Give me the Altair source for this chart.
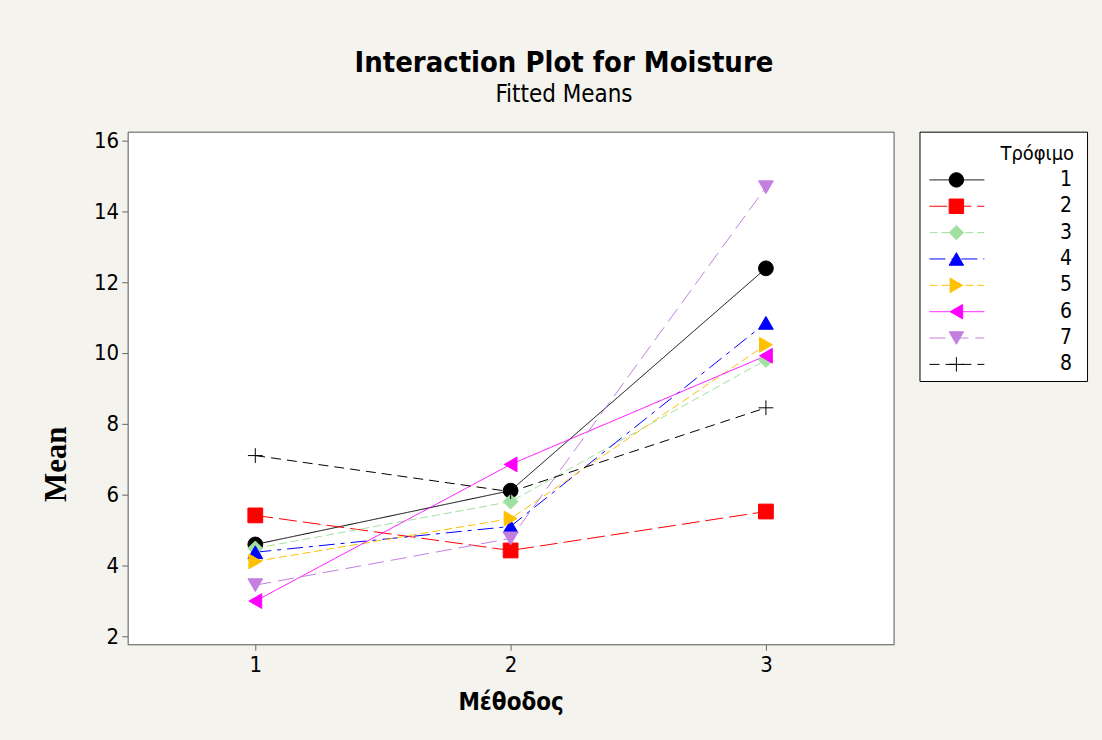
import altair as alt
import pandas as pd

# Fitted means of Moisture for each food (Τρόφιμο) under each method (Μέθοδος)
methods = [1, 2, 3]
foods = ["1", "2", "3", "4", "5", "6", "7", "8"]
mean_1 = [4.59, 6.11, 12.39]
mean_2 = [5.41, 4.42, 5.52]
mean_3 = [4.48, 5.80, 9.80]
mean_4 = [4.37, 5.10, 10.85]
mean_5 = [4.11, 5.32, 10.23]
mean_6 = [2.99, 6.85, 9.92]
mean_7 = [3.44, 4.76, 14.68]
mean_8 = [7.10, 6.08, 8.45]
series = [mean_1, mean_2, mean_3, mean_4, mean_5, mean_6, mean_7, mean_8]

y_ticks = [2, 4, 6, 8, 10, 12, 14, 16]

# Per-food styling
PLUS = "M-1,0H1M0,-1V1"
colors = ["#000000", "#FF0000", "#A0E0A0", "#0000FF",
          "#FFC000", "#FF00FF", "#C27FE0", "#000000"]
shapes = ["circle", "square", "diamond", "triangle-up",
          "triangle-right", "triangle-left", "triangle-down", PLUS]
dashes = [[1, 0], [18, 6], [8, 4], [16, 6, 4, 6],
          [8, 4], [1, 0], [16, 7], [10, 6]]

rows = []
for food, vals in zip(foods, series):
    for m, v in zip(methods, vals):
        rows.append({"food": food, "method": m, "mean": v})
df = pd.DataFrame(rows)

legend_df = pd.DataFrame({"food": foods, "row": list(range(1, len(foods) + 1))})
legend_title_df = pd.DataFrame({"label": ["Τρόφιμο"], "row": [0]})

SANS = "DejaVu Sans Condensed, Tahoma, DejaVu Sans"
BG = "#F4F3EE"

color_scale = alt.Scale(domain=foods, range=colors)
shape_scale = alt.Scale(domain=foods, range=shapes)
dash_scale = alt.Scale(domain=foods, range=dashes)

x_enc = alt.X(
    "method:Q",
    scale=alt.Scale(domain=[0.5, 3.5], nice=False, zero=False),
    axis=alt.Axis(values=methods, format="d", title="Μέθοδος", grid=False,
                  domain=False, tickSize=6, tickColor="#666666",
                  labelFont=SANS, labelFontSize=22, labelColor="#000000",
                  labelPadding=4, titleFont=SANS, titleFontSize=24,
                  titleFontWeight="bold", titleColor="#000000", titlePadding=15),
)
y_enc = alt.Y(
    "mean:Q",
    scale=alt.Scale(domain=[1.77, 16.25], nice=False, zero=False),
    axis=alt.Axis(values=y_ticks, title="Mean", grid=False, domain=False,
                  tickSize=6, tickColor="#666666", labelFont=SANS,
                  labelFontSize=22, labelColor="#000000", labelPadding=3,
                  titleFont="Liberation Serif", titleFontSize=31,
                  titleFontWeight="bold", titleColor="#000000",
                  titleAngle=270, titleX=-71, titleY=333,
                  titleAlign="center", titleBaseline="middle"),
)

base = alt.Chart(df).encode(x=x_enc, y=y_enc)

lines = base.mark_line(strokeWidth=1).encode(
    color=alt.Color("food:N", scale=color_scale, legend=None),
    strokeDash=alt.StrokeDash("food:N", scale=dash_scale, legend=None),
)
points = base.mark_point(filled=True, opacity=1, strokeWidth=1, size=220).encode(
    color=alt.Color("food:N", scale=color_scale, legend=None),
    stroke=alt.Stroke("food:N", scale=color_scale, legend=None),
    shape=alt.Shape("food:N", scale=shape_scale, legend=None),
)

plot = alt.layer(lines, points).properties(
    width=768, height=514,
    view=alt.ViewBackground(fill="white", stroke="#555555", strokeWidth=1),
)

# Key: a short styled line with its marker, and the food number on the right
ly = alt.Y("row:Q", scale=alt.Scale(domain=[-0.83, 8.63], reverse=True, nice=False, zero=False), axis=None)
lkey = alt.Chart(legend_df)
key_lines = lkey.mark_rule(strokeWidth=1).encode(
    x=alt.value(10), x2=alt.value(65), y=ly,
    color=alt.Color("food:N", scale=color_scale, legend=None),
    strokeDash=alt.StrokeDash("food:N", scale=dash_scale, legend=None),
)
key_points = lkey.mark_point(filled=True, opacity=1, strokeWidth=1, size=210).encode(
    x=alt.value(37), y=ly,
    color=alt.Color("food:N", scale=color_scale, legend=None),
    stroke=alt.Stroke("food:N", scale=color_scale, legend=None),
    shape=alt.Shape("food:N", scale=shape_scale, legend=None),
)
key_labels = lkey.mark_text(align="right", baseline="middle", font=SANS,
                            fontSize=21, color="#000000").encode(
    x=alt.value(153), y=ly, text="food:N",
)
key_title = alt.Chart(legend_title_df).mark_text(
    align="right", baseline="middle", font=SANS, fontSize=20, color="#000000"
).encode(x=alt.value(155), y=ly, text="label:N")

key = alt.layer(key_lines, key_points, key_labels, key_title).properties(
    width=168, height=250,
    view=alt.ViewBackground(fill="white", stroke="#000000", strokeWidth=1),
)

chart = alt.hconcat(plot, key, spacing=24).resolve_scale(
    x="independent", y="independent"
).properties(
    title=alt.TitleParams(
        text="Interaction Plot for Moisture",
        subtitle="Fitted Means",
        font=SANS, fontSize=29, fontWeight="bold", color="#000000",
        subtitleFont=SANS, subtitleFontSize=24, subtitleColor="#000000",
        subtitlePadding=5, anchor="middle", frame="bounds", offset=22,
    ),
    background=BG,
    padding={"left": 40, "top": 48, "right": 14, "bottom": 40},
).configure_view(stroke=None)

chart.save("out.html", embed_options={"renderer": "svg", "actions": False})
